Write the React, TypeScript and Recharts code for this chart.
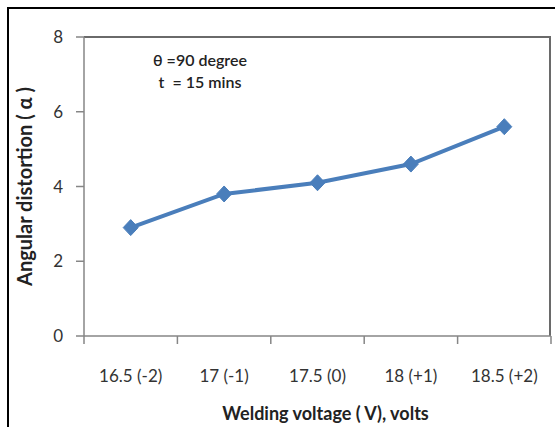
import React from 'react';
import { LineChart, Line, XAxis, YAxis } from 'recharts';

const categories = ['16.5 (-2)', '17 (-1)', '17.5 (0)', '18 (+1)', '18.5 (+2)'];
const distortion = [2.9, 3.8, 4.1, 4.6, 5.6];
const yTicks = [0, 2, 4, 6, 8];
const boundaryTicks = [0, 1, 2, 3, 4, 5];

const data = categories.map((c, i) => ({ category: c, pos: i + 0.5, value: distortion[i] }));
const labelTicks = data.map((d) => d.pos);

const FONT = 'Lato, "Open Sans", sans-serif';
const BLUE = '#4a7ebb';
const AXIS = '#868686';
const BORDER = '#6a6a6a';

const Diamond = (props: any) => {
  const { cx, cy, index } = props;
  if (cx == null || cy == null) return null;
  return (
    <path
      key={`d-${index}`}
      d={`M${cx},${cy - 8} L${cx + 7.5},${cy} L${cx},${cy + 8} L${cx - 7.5},${cy} Z`}
      fill={BLUE}
      stroke={BLUE}
      strokeWidth={1}
    />
  );
};

export default function App() {
  return (
    <div style={{ position: 'absolute', left: 0, top: 0, width: 555, height: 427, overflow: 'hidden', background: '#fff' }}>
      <div
        style={{
          position: 'absolute',
          left: 7,
          top: 7,
          width: 620,
          height: 520,
          border: '2px solid #000',
          boxSizing: 'border-box',
        }}
      />
      <div
        style={{
          position: 'absolute',
          left: 84,
          top: 36,
          width: 467,
          height: 300,
          borderTop: `2px solid ${BORDER}`,
          borderRight: `2px solid ${BORDER}`,
          boxSizing: 'border-box',
          pointerEvents: 'none',
        }}
      />
      <div style={{ position: 'absolute', left: 0, top: 0 }}>
        <LineChart width={555} height={427} data={data} margin={{ top: 37, right: 4, bottom: 0, left: 0 }}>
          <XAxis
            xAxisId="b_lab"
            type="number"
            dataKey="pos"
            domain={[0, 5]}
            ticks={labelTicks}
            interval={0}
            height={81}
            tickSize={0}
            tickMargin={24}
            tickLine={false}
            axisLine={false}
            tickFormatter={(v: number) => categories[Math.round(v - 0.5)] ?? ''}
            tick={{ fill: '#333', fontSize: 17, fontFamily: FONT }}
            label={{
              value: 'Welding voltage ( V), volts',
              position: 'insideBottom',
              offset: 7,
              dx: 8,
              style: { fill: '#222', fontSize: 18, fontWeight: 700, fontFamily: FONT },
            }}
          />
          <XAxis
            xAxisId="a_tk"
            type="number"
            dataKey="pos"
            domain={[0, 5]}
            ticks={boundaryTicks}
            interval={0}
            height={10}
            tickSize={8}
            tickFormatter={() => ''}
            tickLine={{ stroke: AXIS, strokeWidth: 1.5 }}
            axisLine={{ stroke: AXIS, strokeWidth: 1.5 }}
          />
          <YAxis
            yAxisId="left"
            type="number"
            domain={[0, 8]}
            ticks={yTicks}
            width={84}
            tickSize={8}
            tickMargin={13}
            tick={{ fill: '#333', fontSize: 17, fontFamily: FONT }}
            tickLine={{ stroke: AXIS, strokeWidth: 1.5 }}
            axisLine={{ stroke: AXIS, strokeWidth: 1.5 }}
            label={{
              value: 'Angular distortion ( α )',
              angle: -90,
              position: 'insideLeft',
              offset: 25,
              dy: 0,
              style: { textAnchor: 'middle', fill: '#222', fontSize: 20, fontWeight: 700, fontFamily: FONT },
            }}
          />
          <Line
            xAxisId="a_tk"
            yAxisId="left"
            dataKey="value"
            stroke={BLUE}
            strokeWidth={4}
            dot={<Diamond />}
            activeDot={false}
            isAnimationActive={false}
          />
        </LineChart>
      </div>
      <div
        style={{
          position: 'absolute',
          left: 120,
          top: 49,
          width: 160,
          textAlign: 'center',
          fontFamily: FONT,
          fontSize: 16,
          fontWeight: 600,
          color: '#222',
          lineHeight: '22px',
        }}
      >
        <div>θ =90 degree</div>
        <div>t&nbsp; = 15 mins</div>
      </div>
    </div>
  );
}
